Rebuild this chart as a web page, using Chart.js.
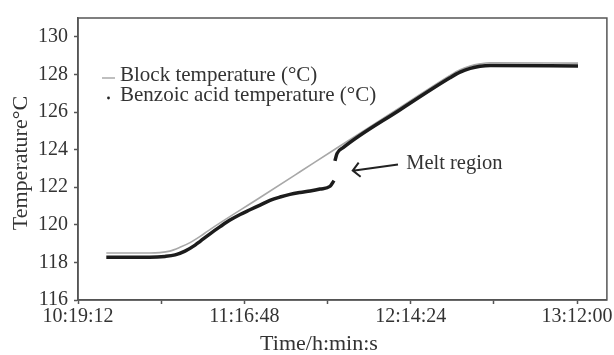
<!DOCTYPE html>
<html>
<head>
<meta charset="utf-8">
<script src="https://cdn.jsdelivr.net/npm/chart.js@4/dist/chart.umd.min.js"></script>
<style>
  body { margin: 0; background: #fff; }
  #wrap { width: 614px; height: 355px; }
</style>
</head>
<body>
<div id="wrap"><canvas id="grafico" width="614" height="355"></canvas></div>
<script>
// tempos (h:mm:ss) e temperaturas em °C
var blockTimes = ["10:29:00", "10:44:00", "10:47:30", "10:51:00", "10:54:30", "10:58:00", "11:01:30", "11:04:15",
                  "11:22:15", "11:36:05", "11:48:10", "12:10:45", "12:28:00", "12:31:30", "12:35:00", "12:38:25",
                  "12:41:55", "13:12:20"];
var blockTemps = [118.50, 118.50, 118.52, 118.60, 118.80, 119.05, 119.38, 119.68,
                  121.45, 122.82, 124.02, 126.24, 127.95, 128.25, 128.45, 128.56,
                  128.62, 128.60];

// o null marca a quebra da curva na fusão
var acidTimes = ["10:29:00", "10:44:00", "10:49:20", "10:52:50", "10:56:15", "10:59:45", "11:01:30", "11:04:55",
                 "11:08:25", "11:11:50", "11:15:20", "11:18:45", "11:22:15", "11:25:40", "11:29:10", "11:32:35",
                 "11:36:05", "11:39:35", "11:43:00", "11:46:30", "11:47:50", "11:48:00", "11:48:10", "11:48:55",
                 "11:51:00", "12:10:45", "12:28:00", "12:31:30", "12:35:00", "12:38:25", "12:41:55", "13:12:20"];
var acidTemps = [118.28, 118.28, 118.32, 118.40, 118.60, 118.92, 119.12, 119.52,
                 119.90, 120.25, 120.55, 120.80, 121.05, 121.30, 121.48, 121.62,
                 121.72, 121.80, 121.90, 122.05, 122.35, null, 123.40, 123.80,
                 124.10, 126.12, 127.82, 128.12, 128.32, 128.43, 128.47, 128.45];

var xRange = ["10:19:12", "13:22:20"];
var xTickTimes = ["10:19:12", "10:48:00", "11:16:48", "11:45:36", "12:14:24", "12:43:12", "13:12:00"];
var xTickLabels = ["10:19:12", "", "11:16:48", "", "12:14:24", "", "13:12:00"];
var yRange = [116, 131];
var yTicks = [116, 118, 120, 122, 124, 126, 128, 130];

var legendLabels = ["Block temperature (°C)", "Benzoic acid temperature (°C)"];
var meltText = "Melt region";
var meltArrowTip = ["11:54:20", 122.88];
var meltArrowTail = ["12:10:00", 123.21];
var meltTextAt = ["12:12:50", 123.28];

var fonte = '"Liberation Serif", "Times New Roman", serif';
var corTexto = "#333";
var corEixo = "#555";

function segundos(t) {
  var p = t.split(":");
  return (+p[0]) * 3600 + (+p[1]) * 60 + (+p[2]);
}

function pontos(times, temps) {
  return times.map(function (t, i) { return { x: segundos(t), y: temps[i] }; });
}

// desenha moldura, legenda, seta da fusão e títulos dos eixos
var desenhos = {
  id: "desenhos",
  afterDraw: function (chart) {
    var ctx = chart.ctx, a = chart.chartArea, sx = chart.scales.x, sy = chart.scales.y;
    ctx.save();

    // moldura
    ctx.strokeStyle = corEixo;
    ctx.lineWidth = 1.5;
    ctx.strokeRect(a.left, a.top, a.right - a.left, a.bottom - a.top);

    // legenda
    ctx.font = "21px " + fonte;
    ctx.fillStyle = corTexto;
    ctx.textBaseline = "middle";
    ctx.textAlign = "left";
    ctx.strokeStyle = "#aaa";
    ctx.lineWidth = 1.5;
    ctx.beginPath(); ctx.moveTo(a.left + 24, 78); ctx.lineTo(a.left + 37, 78); ctx.stroke();
    ctx.fillText(legendLabels[0], a.left + 42, 75);
    ctx.fillStyle = "#222";
    ctx.beginPath(); ctx.arc(a.left + 30.5, 98, 1.4, 0, 2 * Math.PI); ctx.fill();
    ctx.fillStyle = corTexto;
    ctx.fillText(legendLabels[1], a.left + 42, 95);

    // seta "Melt region"
    var tx = sx.getPixelForValue(segundos(meltArrowTip[0])), ty = sy.getPixelForValue(meltArrowTip[1]);
    var ux = sx.getPixelForValue(segundos(meltArrowTail[0])), uy = sy.getPixelForValue(meltArrowTail[1]);
    var ang = Math.atan2(uy - ty, ux - tx);
    ctx.strokeStyle = "#222";
    ctx.lineWidth = 2;
    ctx.beginPath();
    ctx.moveTo(ux, uy); ctx.lineTo(tx, ty);
    ctx.moveTo(tx + 10 * Math.cos(ang - 0.8), ty + 10 * Math.sin(ang - 0.8));
    ctx.lineTo(tx, ty);
    ctx.lineTo(tx + 10 * Math.cos(ang + 0.8), ty + 10 * Math.sin(ang + 0.8));
    ctx.stroke();
    ctx.font = "20.5px " + fonte;
    ctx.fillText(meltText, sx.getPixelForValue(segundos(meltTextAt[0])), sy.getPixelForValue(meltTextAt[1]));

    // títulos dos eixos
    ctx.font = "22px " + fonte;
    ctx.textAlign = "center";
    ctx.fillText("Time/h:min:s", 319, 344);
    ctx.translate(21, 163);
    ctx.rotate(-Math.PI / 2);
    ctx.fillText("Temperature°C", 0, 0);

    ctx.restore();
  }
};

var ctx = document.getElementById("grafico");

var grafico = new Chart(ctx, {
  type: "line",
  data: {
    datasets: [{
      label: legendLabels[1],
      data: pontos(acidTimes, acidTemps),
      borderColor: "#1c1c1c",
      borderWidth: 3.5,
      pointRadius: 0,
      cubicInterpolationMode: "monotone",
      spanGaps: false,
      order: 1
    }, {
      label: legendLabels[0],
      data: pontos(blockTimes, blockTemps),
      borderColor: "#a8a8a8",
      borderWidth: 1.6,
      pointRadius: 0,
      cubicInterpolationMode: "monotone",
      order: 2
    }]
  },
  plugins: [desenhos],
  options: {
    responsive: false,
    animation: false,
    events: [],
    layout: { padding: { left: 0, right: 7, top: 14, bottom: 0 } },
    plugins: {
      legend: { display: false },
      tooltip: { enabled: false }
    },
    scales: {
      x: {
        type: "linear",
        min: segundos(xRange[0]),
        max: segundos(xRange[1]),
        afterBuildTicks: function (scale) {
          scale.ticks = xTickTimes.map(function (t) { return { value: segundos(t) }; });
        },
        afterFit: function (scale) { scale.height = 55; },
        border: { color: corEixo, width: 1.5 },
        grid: { drawOnChartArea: false, drawTicks: true, tickLength: 4, color: corEixo, tickWidth: 1.5 },
        ticks: {
          autoSkip: false,
          maxRotation: 0,
          padding: 1,
          color: corTexto,
          font: { family: fonte, size: 20 },
          callback: function (v, i) { return xTickLabels[i]; }
        }
      },
      y: {
        min: yRange[0],
        max: yRange[1],
        afterBuildTicks: function (scale) {
          scale.ticks = yTicks.map(function (v) { return { value: v }; });
        },
        afterFit: function (scale) { scale.width = 78; },
        border: { color: corEixo, width: 1.5 },
        grid: { drawOnChartArea: false, drawTicks: true, tickLength: 4, color: corEixo, tickWidth: 1.5 },
        ticks: {
          padding: 6,
          color: corTexto,
          font: { family: fonte, size: 20 }
        }
      }
    }
  }
});
</script>
</body>
</html>
